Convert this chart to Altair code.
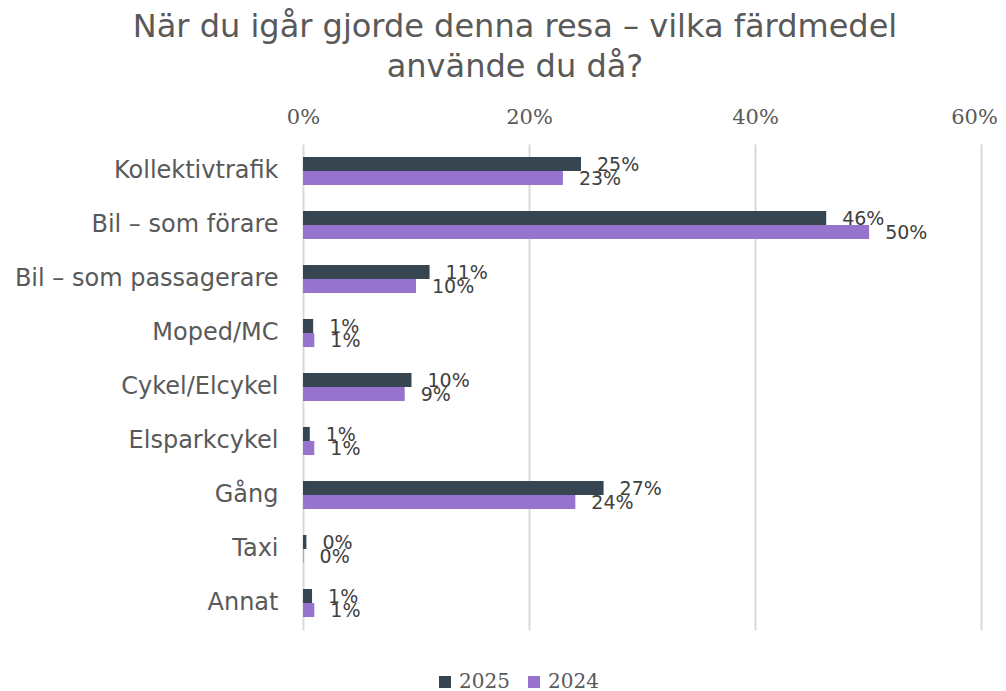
import altair as alt
import pandas as pd

categories = ["Kollektivtrafik", "Bil – som förare", "Bil – som passagerare", "Moped/MC",
              "Cykel/Elcykel", "Elsparkcykel", "Gång", "Taxi", "Annat"]
series = ["2025", "2024"]
values_2025 = [24.6, 46.3, 11.2, 0.9, 9.6, 0.6, 26.6, 0.3, 0.8]
values_2024 = [23.0, 50.1, 10.0, 1.0, 9.0, 1.0, 24.1, 0.05, 1.0]
colors = ["#36454F", "#9673CC"]
tick_values = [0, 20, 40, 60]

rows = []
for s, vals in zip(series, [values_2025, values_2024]):
    for c, v in zip(categories, vals):
        rows.append({"cat": c, "year": s, "value": v, "label": f"{int(round(v))}%"})
df = pd.DataFrame(rows)

base = alt.Chart(df).encode(
    y=alt.Y("cat:N", sort=categories, title=None,
            scale=alt.Scale(paddingInner=0.48, paddingOuter=0.24),
            axis=alt.Axis(labelFont="DejaVu Sans", labelFontSize=24, labelColor="#595959",
                          ticks=False, tickSize=0, domain=False, labelPadding=25, grid=False,
                          labelLimit=400)),
    yOffset=alt.YOffset("year:N", sort=series, scale=alt.Scale(paddingInner=0, paddingOuter=0)),
)

bars = base.mark_bar().encode(
    x=alt.X("value:Q", title=None, scale=alt.Scale(domain=[0, 60]),
            axis=alt.Axis(orient="top", values=tick_values, labelExpr="datum.value + '%'",
                          labelFont="DejaVu Serif", labelFontSize=21, labelColor="#595959",
                          ticks=False, tickSize=0, domain=False, labelPadding=17,
                          labelFlush=False,
                          labelOffset=alt.expr("datum.value == 60 ? -7 : 0"),
                          grid=True, gridColor="#D9D9D9", gridWidth=2)),
    color=alt.Color("year:N", sort=series, scale=alt.Scale(domain=series, range=colors),
                    legend=alt.Legend(title=None, orient="none", direction="horizontal",
                                      legendX=132, legendY=528,
                                      labelFont="DejaVu Serif", labelFontSize=20,
                                      labelColor="#595959", symbolType="square",
                                      symbolSize=144, symbolStrokeWidth=0,
                                      labelOffset=4, columnPadding=14)),
)

labels = base.mark_text(align="left", baseline="middle", dx=16, dy=1,
                        font="DejaVu Sans", fontSize=19, color="#404040").encode(
    x=alt.X("value:Q"),
    text=alt.Text("label:N"),
)

chart = (bars + labels).properties(
    width=678, height=486,
    title=alt.TitleParams(["När du igår gjorde denna resa – vilka färdmedel", "använde du då?"],
                          font="DejaVu Sans", fontSize=32, fontWeight="normal",
                          color="#595959", anchor="middle", frame="group", dx=-127,
                          lineHeight=40, offset=22),
    autosize=alt.AutoSizeParams(type="none"),
    padding={"left": 295, "top": 136, "right": 17, "bottom": 66},
).configure_view(stroke=None)

chart.save("out.html", embed_options={"renderer": "svg", "actions": False})
